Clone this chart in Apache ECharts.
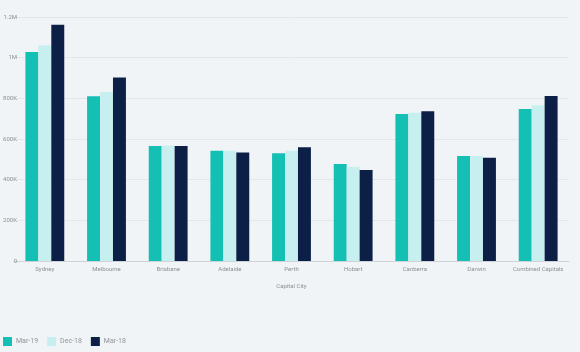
<!DOCTYPE html>
<html>
<head>
<meta charset="utf-8">
<script src="https://cdn.jsdelivr.net/npm/echarts@6/dist/echarts.min.js"></script>
<style>
  html, body { margin: 0; padding: 0; background: #f1f4f6; }
  #main { width: 580px; height: 352px; }
</style>
</head>
<body>
<div id="main"></div>
<script>
var cities = ['Sydney', 'Melbourne', 'Brisbane', 'Adelaide', 'Perth', 'Hobart', 'Canberra', 'Darwin', 'Combined Capitals'];
var mar19 = [1028000, 810000, 565000, 542000, 530000, 477000, 723000, 516000, 748000];
var dec18 = [1061000, 831000, 568000, 542000, 542000, 464000, 729000, 516000, 766000];
var mar18 = [1162000, 903000, 566000, 533000, 559000, 448000, 736000, 508000, 811000];

var myChart = echarts.init(document.getElementById('main'));

function fmt(v) {
    if (v >= 1000000) return (v / 1000000) + 'M';
    if (v >= 1000) return (v / 1000) + 'K';
    return v;
}

var option = {
    backgroundColor: '#f1f4f6',
    textStyle: { fontFamily: 'Roboto' },
    animation: false,
    grid: { left: 14, right: 11, top: 17, bottom: 91 },
    legend: {
        left: 3,
        bottom: 6,
        padding: 0,
        itemWidth: 9,
        itemHeight: 9,
        itemGap: 9,
        icon: 'rect',
        textStyle: { fontSize: 7, color: '#8f959b', padding: [0, 0, 0, -1] },
        data: ['Mar-19', 'Dec-18', 'Mar-18']
    },
    xAxis: {
        type: 'category',
        data: cities,
        name: 'Capital City',
        nameLocation: 'middle',
        nameGap: 22,
        nameTextStyle: { fontSize: 6, color: '#8a9096' },
        axisLine: { lineStyle: { color: '#cfd3d6' } },
        axisTick: { show: false },
        axisLabel: { fontSize: 6, color: '#8a9096', margin: 5, interval: 0 }
    },
    yAxis: {
        type: 'value',
        min: 0,
        max: 1200000,
        interval: 200000,
        axisLine: { show: false },
        axisTick: { show: false },
        splitLine: { lineStyle: { color: '#e3e7ea' } },
        axisLabel: { fontSize: 6, color: '#8a9096', margin: -3, formatter: fmt }
    },
    series: [
        {
            name: 'Mar-19', type: 'bar', data: mar19,
            barGap: '0%', barCategoryGap: '37%',
            itemStyle: { color: '#14bfb3' }
        },
        {
            name: 'Dec-18', type: 'bar', data: dec18,
            itemStyle: { color: '#c8eff0' }
        },
        {
            name: 'Mar-18', type: 'bar', data: mar18,
            itemStyle: { color: '#0c1f47' }
        }
    ]
};

myChart.setOption(option);
</script>
</body>
</html>
